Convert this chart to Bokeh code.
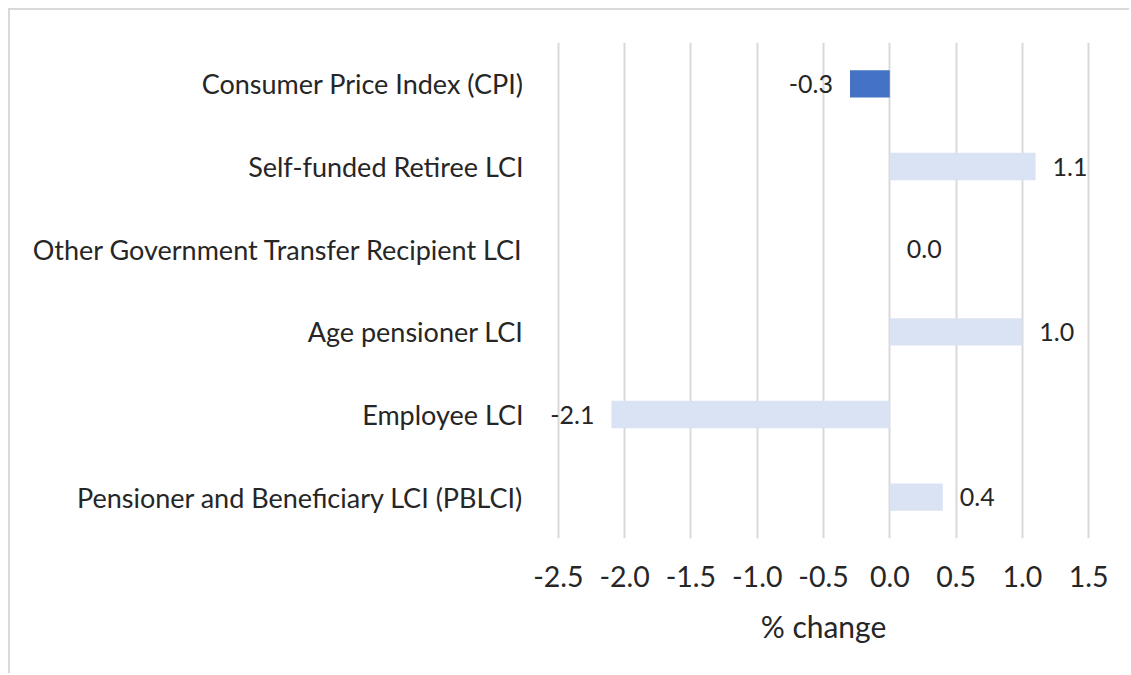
from bokeh.plotting import figure
from bokeh.models import ColumnDataSource, FactorRange, Range1d, FixedTicker, LabelSet, CustomJSTickFormatter
from bokeh.core.properties import value
from bokeh.embed import file_html
from bokeh.resources import INLINE

categories = [
    "Consumer Price Index (CPI)",
    "Self-funded Retiree LCI",
    "Other Government Transfer Recipient LCI",
    "Age pensioner LCI",
    "Employee LCI",
    "Pensioner and Beneficiary LCI (PBLCI)",
]
values = [-0.3, 1.1, 0.0, 1.0, -2.1, 0.4]
tick_values = [-2.5, -2.0, -1.5, -1.0, -0.5, 0.0, 0.5, 1.0, 1.5]

FONT = "Lato"
TEXT = "#262626"

colors = ["#4472C4" if c.startswith("Consumer") else "#DAE3F3" for c in categories]
labels = [f"{v:.1f}" for v in values]
aligns = ["right" if v < 0 else "left" for v in values]
offsets = [-17 if v < 0 else 17 for v in values]

src = ColumnDataSource(dict(cat=categories, val=values, color=colors,
                            label=labels, align=aligns, off=offsets))

p = figure(width=1121, height=665, output_backend="svg", toolbar_location=None,
           y_range=FactorRange(factors=list(reversed(categories))),
           x_range=Range1d(-2.65, 1.65),
           min_border_left=528, min_border_right=23, min_border_top=32, min_border_bottom=137)
p.margin = (8, 0, 0, 8)
p.styles = {"border-top": "2px solid #d9d9d9", "border-left": "2px solid #d9d9d9"}
p.outline_line_color = None

p.hbar(y="cat", left=0, right="val", height=0.33, color="color", line_color=None, source=src)
labelset = LabelSet(x="val", y="cat", text="label", text_align="align", x_offset="off",
                    text_baseline="middle", text_font=value(FONT), text_font_size=value("25px"),
                    text_color=value(TEXT), source=src)
p.add_layout(labelset)

p.xgrid.ticker = FixedTicker(ticks=tick_values)
p.xgrid.grid_line_color = "#d9d9d9"
p.xgrid.grid_line_width = 2
p.ygrid.grid_line_color = None

p.xaxis.ticker = FixedTicker(ticks=tick_values)
p.xaxis.formatter = CustomJSTickFormatter(code="return tick.toFixed(1);")
p.xaxis.axis_label = "% change"
for ax in (p.xaxis, p.yaxis):
    ax.axis_line_color = None
    ax.major_tick_line_color = None
    ax.minor_tick_line_color = None
    ax.major_label_text_font = FONT
    ax.major_label_text_color = TEXT
    ax.axis_label_text_font = FONT
    ax.axis_label_text_color = TEXT
    ax.axis_label_text_font_style = "normal"
p.xaxis.major_label_text_font_size = "28.5px"
p.xaxis.axis_label_text_font_size = "30px"
p.xaxis.major_label_standoff = 21
p.xaxis.axis_label_standoff = 18
p.yaxis.major_label_text_font_size = "27px"
p.yaxis.major_label_standoff = 9

open("out.html", "w").write(file_html(p, INLINE))
